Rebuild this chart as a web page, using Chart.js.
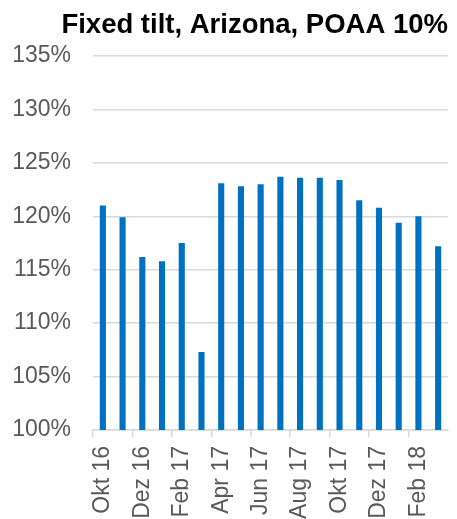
<!DOCTYPE html>
<html>
<head>
<meta charset="utf-8">
<script src="https://cdn.jsdelivr.net/npm/chart.js@4/dist/chart.umd.min.js"></script>
<style>
  html, body { margin: 0; padding: 0; background: #fff; }
  #wrap { width: 457px; height: 519px; }
</style>
</head>
<body>
<div id="wrap"><canvas id="poaaChart"></canvas></div>
<script>
// Monthly values, Okt 16 .. Mrz 18
const months = ["Okt 16", "Nov 16", "Dez 16", "Jan 17", "Feb 17", "Mrz 17",
                "Apr 17", "Mai 17", "Jun 17", "Jul 17", "Aug 17", "Sep 17",
                "Okt 17", "Nov 17", "Dez 17", "Jan 18", "Feb 18", "Mrz 18"];
const ratio = [121.0, 119.9, 116.2, 115.8, 117.5, 107.3,
               123.1, 122.8, 123.0, 123.7, 123.6, 123.6,
               123.4, 121.5, 120.8, 119.4, 120.0, 117.2];
const yTicks = { min: 100, max: 135, step: 5 };

const gray = "#d9d9d9";
const textGray = "#595959";

let poaaChart;
function initChart() {
    const ctx = document.getElementById("poaaChart").getContext("2d");
    poaaChart = new Chart(ctx, {
        type: "bar",
        data: {
            labels: months,
            datasets: [{
                data: ratio,
                backgroundColor: "#0070c0",
                borderWidth: 0,
                barPercentage: 0.31,
                categoryPercentage: 1
            }]
        },
        options: {
            responsive: true,
            maintainAspectRatio: false,
            animation: false,
            layout: { padding: { left: 12, right: 9, top: 0, bottom: 0 } },
            plugins: {
                legend: { display: false },
                tooltip: { enabled: false },
                title: {
                    display: true,
                    text: "Fixed tilt, Arizona, POAA 10%",
                    align: "end",
                    color: "#000",
                    font: { family: "Liberation Sans, Arial, sans-serif", size: 27.5, weight: "bold" },
                    padding: { top: 9, bottom: 14 }
                }
            },
            scales: {
                x: {
                    offset: true,
                    border: { color: gray, width: 1.5 },
                    grid: {
                        offset: true,
                        drawOnChartArea: false,
                        drawTicks: true,
                        tickLength: 7,
                        lineWidth: 1.5,
                        // tick marks only every second month
                        color: c => (c.index % 2 === 0 ? gray : "rgba(0,0,0,0)")
                    },
                    ticks: {
                        autoSkip: false,
                        maxRotation: 90,
                        minRotation: 90,
                        padding: 9,
                        color: textGray,
                        font: { family: "Liberation Sans, Arial, sans-serif", size: 23 },
                        callback: (v, i) => (i % 2 === 0 ? months[i] : "")
                    },
                    afterFit: scale => {
                        scale.height = 89;
                        scale.paddingLeft = 0;
                        scale.paddingRight = 0;
                    }
                },
                y: {
                    min: yTicks.min,
                    max: yTicks.max,
                    border: { display: false },
                    grid: { color: gray, lineWidth: 1.5, drawTicks: false },
                    ticks: {
                        stepSize: yTicks.step,
                        padding: 22,
                        color: textGray,
                        font: { family: "Liberation Sans, Arial, sans-serif", size: 23 },
                        callback: v => v + "%"
                    },
                    afterFit: scale => { scale.width = 81; }
                }
            }
        }
    });
}

initChart();
</script>
</body>
</html>
